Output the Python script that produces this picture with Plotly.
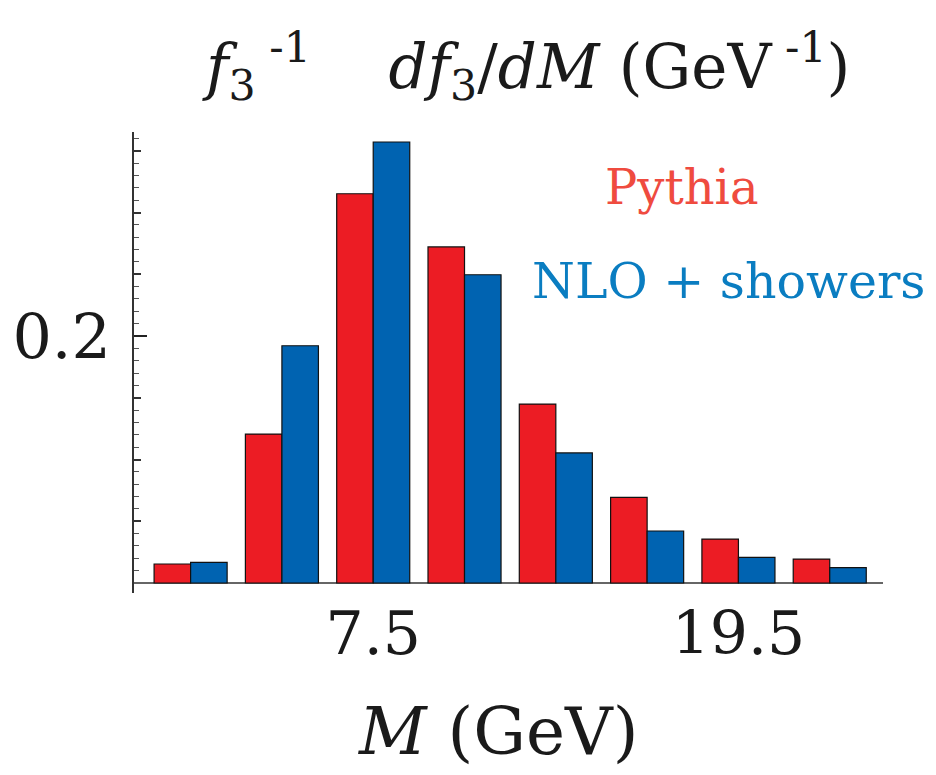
import plotly.graph_objects as go

# Mass bins (GeV): centres of 3 GeV wide bins
bin_centres = [1.5, 4.5, 7.5, 10.5, 13.5, 16.5, 19.5, 22.5]

# Normalised distributions f3^-1 df3/dM (GeV^-1)
pythia = [0.0154, 0.1206, 0.3152, 0.2721, 0.1449, 0.0693, 0.0356, 0.0194]
nlo_showers = [0.0167, 0.1921, 0.3571, 0.2496, 0.1053, 0.0421, 0.0207, 0.0124]

x_tick_vals = [7.5, 19.5]
x_tick_text = ["7.5", "19.5"]
y_label_vals = [0.2]
y_label_text = ["0.2"]
y_small_ticks = [round(0.01 * k, 2) for k in range(1, 37)]
y_mid_ticks = [0.05, 0.10, 0.15, 0.25, 0.30, 0.35]

RED = "#EC1C24"
BLUE = "#0063B1"
SERIF = "DejaVu Serif"

x_range = [-0.36, 24.25]
y_range = [-0.0081, 0.3652]

fig = go.Figure()
fig.add_trace(go.Bar(x=bin_centres, y=pythia, name="Pythia",
                     marker=dict(color=RED, line=dict(color="#111", width=1.2))))
fig.add_trace(go.Bar(x=bin_centres, y=nlo_showers, name="NLO + showers",
                     marker=dict(color=BLUE, line=dict(color="#111", width=1.2))))
# invisible carriers for the overlaid tick axes
for ax in ("y2", "y3", "y4"):
    fig.add_trace(go.Scatter(x=[bin_centres[0]], y=[0], yaxis=ax, mode="markers",
                             marker=dict(opacity=0), hoverinfo="skip", showlegend=False))

tick_axis = dict(range=y_range, showgrid=False, zeroline=False, ticks="inside",
                 overlaying="y", side="left", showline=False)

fig.update_layout(
    width=936, height=775,
    margin=dict(l=132, r=53, t=132, b=182),
    paper_bgcolor="white", plot_bgcolor="white",
    barmode="group", bargap=0.2, bargroupgap=0,
    showlegend=False,
    font=dict(family=SERIF, color="#1a1a1a"),
    xaxis=dict(range=x_range, tickvals=x_tick_vals, ticktext=x_tick_text,
               showline=False, showgrid=False, zeroline=False, ticks="",
               tickfont=dict(size=60, family=SERIF, color="#1a1a1a"),
               ticklabelstandoff=0),
    # main value axis: spine and zero baseline
    yaxis=dict(range=y_range, showgrid=False, ticks="", showticklabels=False,
               showline=True, linecolor="#333", linewidth=1.5,
               zeroline=True, zerolinecolor="#666", zerolinewidth=1.5),
    # fine ticks every 0.01
    yaxis2=dict(tick_axis, tickvals=y_small_ticks, showticklabels=False,
                ticklen=5, tickwidth=1.3, tickcolor="#555"),
    # medium ticks every 0.05
    yaxis3=dict(tick_axis, tickvals=y_mid_ticks, showticklabels=False,
                ticklen=7, tickwidth=1.5, tickcolor="#333"),
    # long labelled tick
    yaxis4=dict(tick_axis, tickvals=y_label_vals, ticktext=y_label_text,
                ticklen=13, tickwidth=1.8, tickcolor="#222",
                tickfont=dict(size=62, family=SERIF, color="#1a1a1a"),
                ticklabelstandoff=22),
)

# axis titles and series labels
fig.add_annotation(xref="paper", yref="paper", x=0.524, y=1.0, yshift=20,
                   xanchor="center", yanchor="bottom", showarrow=False,
                   text="<i>f</i><sub>3</sub><sup> -1</sup>    <i>df</i><sub>3</sub>/<i>dM</i> (GeV<sup> -1</sup>)",
                   font=dict(size=61, family=SERIF, color="#1a1a1a"))
fig.add_annotation(xref="paper", yref="paper", x=0.486, y=0, yshift=-98,
                   xanchor="center", yanchor="top", showarrow=False,
                   text="<i>M</i> (GeV)",
                   font=dict(size=66, family=SERIF, color="#1a1a1a"))
fig.add_annotation(xref="paper", yref="paper", x=0.732, y=0.88,
                   xanchor="center", yanchor="middle", showarrow=False,
                   text="Pythia", font=dict(size=48, family=SERIF, color="#EF4B3F"))
fig.add_annotation(xref="paper", yref="paper", x=0.794, y=0.675,
                   xanchor="center", yanchor="middle", showarrow=False,
                   text="NLO + showers", font=dict(size=49, family=SERIF, color="#0A7DC1"))

fig.write_html("out.html")
